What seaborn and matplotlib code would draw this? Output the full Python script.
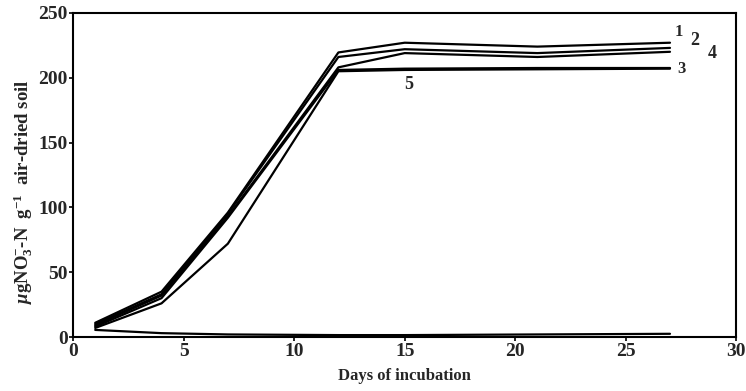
import pandas as pd
import matplotlib
matplotlib.use("Agg")
import matplotlib.pyplot as plt
import seaborn as sns

sns.set_style("white")
plt.rcParams['font.family'] = ['Liberation Serif', 'DejaVu Serif']
plt.rcParams['mathtext.fontset'] = 'custom'
plt.rcParams['mathtext.rm'] = 'Liberation Serif:bold'
plt.rcParams['mathtext.it'] = 'Liberation Serif:italic:bold'

# days of incubation
days = [1, 4, 7, 12, 15, 21, 27]

# ug NO3-N per g soil
s1 = [11, 35, 96, 219.5, 227, 224, 227]
s2 = [10, 33, 95, 216, 222, 219, 223]
s3 = [8, 30, 92, 206, 207, 207.5, 207.5]
s4 = [9, 32, 93, 208, 219, 216, 220]
s5 = [7, 26, 72, 205, 206, 206.5, 207]
s0 = [5.5, 3, 2, 1.5, 1.5, 2, 2.5]

series = {'1': s1, '2': s2, '3': s3, '4': s4, '5': s5, '0': s0}

rows = []
for name, vals in series.items():
    for d, v in zip(days, vals):
        rows.append({'day': d, 'value': v, 'series': name})
df = pd.DataFrame(rows)

fig = plt.figure(figsize=(7.46, 3.91), dpi=100)
ax = fig.add_axes([0.098, 0.138, 0.889, 0.829])

sns.lineplot(data=df, x='day', y='value', units='series', estimator=None,
             color='black', lw=1.6, ax=ax, legend=False)

ax.set_xlim(0, 30)
ax.set_ylim(0, 250)
ax.set_xticks(range(0, 31, 5))
ax.set_yticks(range(0, 251, 50))
for s in ax.spines.values():
    s.set_color('black')
    s.set_linewidth(1.5)
ax.tick_params(axis='both', direction='out', length=3, width=1.2,
               labelsize=14, pad=1, left=True, bottom=True, color='black')
for lab in ax.get_xticklabels() + ax.get_yticklabels():
    lab.set_fontweight('bold')

# curve labels
ax.text(27.4, 235, '1', fontsize=12, fontweight='bold', ha='center', va='center')
ax.text(28.1, 229, '2', fontsize=13, fontweight='bold', ha='center', va='center')
ax.text(28.9, 219, '4', fontsize=13, fontweight='bold', ha='center', va='center')
ax.text(27.5, 207, '3', fontsize=12, fontweight='bold', ha='center', va='center')
ax.text(15.2, 195, '5', fontsize=13, fontweight='bold', ha='center', va='center')

ax.set_xlabel('Days of incubation', fontsize=12, fontweight='bold', labelpad=6)
ax.set_ylabel(r'$\mu$gNO$_3^{-}$-N  g$^{-1}$  air-dried soil', fontsize=13.5,
              fontweight='bold')
ax.yaxis.set_label_coords(-0.058, 0.45)

fig.savefig('out.png', dpi=100)
